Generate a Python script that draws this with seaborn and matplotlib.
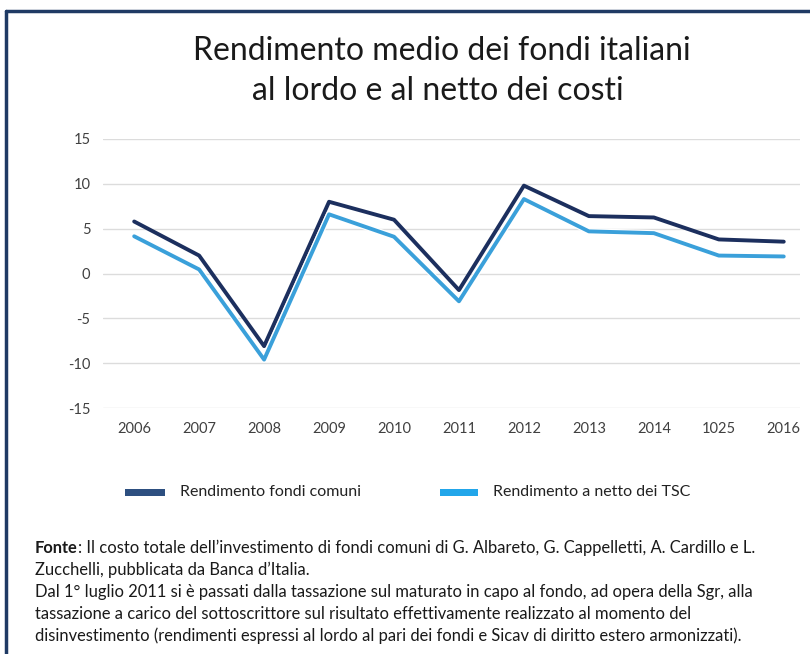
import matplotlib
matplotlib.use("Agg")
import matplotlib.pyplot as plt
import matplotlib.patheffects as pe
from matplotlib.patches import Rectangle
from matplotlib.lines import Line2D
import seaborn as sns
import pandas as pd

years = ["2006", "2007", "2008", "2009", "2010", "2011", "2012", "2013", "2014", "1025", "2016"]
lordo = [5.8, 2.0, -8.1, 8.0, 6.0, -1.85, 9.8, 6.4, 6.25, 3.8, 3.55]
netto = [4.15, 0.45, -9.6, 6.6, 4.1, -3.1, 8.3, 4.7, 4.5, 2.0, 1.9]
series_names = ["Rendimento fondi comuni", "Rendimento a netto dei TSC"]
yticks = [-15, -10, -5, 0, 5, 10, 15]

title_lines = ["Rendimento medio dei fondi italiani", "al lordo e al netto dei costi"]
foot_lines = [
    ": Il costo totale dell\u2019investimento di fondi comuni di G. Albareto, G. Cappelletti, A. Cardillo e L.",
    "Zucchelli, pubblicata da Banca d\u2019Italia.",
    "Dal 1\u00b0 luglio 2011 si \u00e8 passati dalla tassazione sul maturato in capo al fondo, ad opera della Sgr, alla",
    "tassazione a carico del sottoscrittore sul risultato effettivamente realizzato al momento del",
    "disinvestimento (rendimenti espressi al lordo al pari dei fondi e Sicav di diritto estero armonizzati).",
]

sns.set_theme(style="white")
plt.rcParams["font.family"] = ["Lato", "DejaVu Sans"]

dark = "#1c2f5e"
light = "#3aa0da"

df = pd.DataFrame({
    "idx": list(range(len(years))) * 2,
    "val": lordo + netto,
    "serie": [series_names[0]] * len(years) + [series_names[1]] * len(years),
})

W, H = 810, 654
fig = plt.figure(figsize=(W / 100, H / 100), dpi=100)
fig.patch.set_facecolor("white")

ax = fig.add_axes([103 / W, 1 - 408 / H, (800 - 103) / W, (408 - 139) / H])
sns.lineplot(data=df, x="idx", y="val", hue="serie", palette=[dark, light],
             linewidth=2.8, ax=ax, legend=False, sort=False)
lines = ax.get_lines()
if len(lines) > 1:
    lines[1].set_path_effects([pe.Stroke(linewidth=4.5, foreground="white"), pe.Normal()])
    lines[1].set_zorder(3)
    lines[0].set_zorder(2)

ax.set_xlim(-0.48, 10.25)
ax.set_ylim(-15, 15)
ax.set_yticks(yticks)
ax.set_yticklabels([str(v) for v in yticks])
ax.set_xticks(range(len(years)))
ax.set_xticklabels(years)
ax.tick_params(axis="y", length=0, pad=9, labelsize=10.5, labelcolor="#404040")
ax.tick_params(axis="x", length=0, pad=10, labelsize=10.5, labelcolor="#404040")
ax.set_xlabel("")
ax.set_ylabel("")
for s in ax.spines.values():
    s.set_visible(False)
ax.grid(axis="y", color="#dcdcdc", linewidth=1)
ax.set_axisbelow(True)

# border (top and left)
fig.add_artist(Line2D([6 / W, 1.0], [1 - 11 / H, 1 - 11 / H], color="#1f3a64", linewidth=2.5, transform=fig.transFigure))
fig.add_artist(Line2D([6 / W, 6 / W], [1 - 11 / H, 0.0], color="#1f3a64", linewidth=2.5, transform=fig.transFigure))

# title
fig.text(442 / W, 1 - 51 / H, title_lines[0], ha="center", va="center", fontsize=23, color="#1a1a1a")
fig.text(438 / W, 1 - 91 / H, title_lines[1], ha="center", va="center", fontsize=23, color="#1a1a1a")

# legend
leg_y = 1 - 492 / H
fig.add_artist(Rectangle((125 / W, leg_y - 3.5 / H), 40 / W, 7 / H, transform=fig.transFigure,
                         facecolor="#2d4f80", edgecolor="none"))
fig.text(180 / W, leg_y, series_names[0], ha="left", va="center", fontsize=11.5, color="#222222")
fig.add_artist(Rectangle((440 / W, leg_y - 3.5 / H), 38 / W, 7 / H, transform=fig.transFigure,
                         facecolor="#22a6ea", edgecolor="none"))
fig.text(493 / W, leg_y, series_names[1], ha="left", va="center", fontsize=11.5, color="#222222")

# footnote
fs = 11.9
r = fig.canvas.get_renderer()
t0 = fig.text(35 / W, 1 - 548 / H, "Fonte", ha="left", va="center", fontsize=fs, fontweight="bold", color="#1a1a1a")
bb = t0.get_window_extent(renderer=r)
fig.text(bb.x1 / W, 1 - 548 / H, foot_lines[0], ha="left", va="center", fontsize=fs, color="#1a1a1a")
for i, line in enumerate(foot_lines[1:]):
    fig.text(35 / W, 1 - (570 + 22 * i) / H, line, ha="left", va="center", fontsize=fs, color="#1a1a1a")

fig.savefig("out.png", dpi=100)
